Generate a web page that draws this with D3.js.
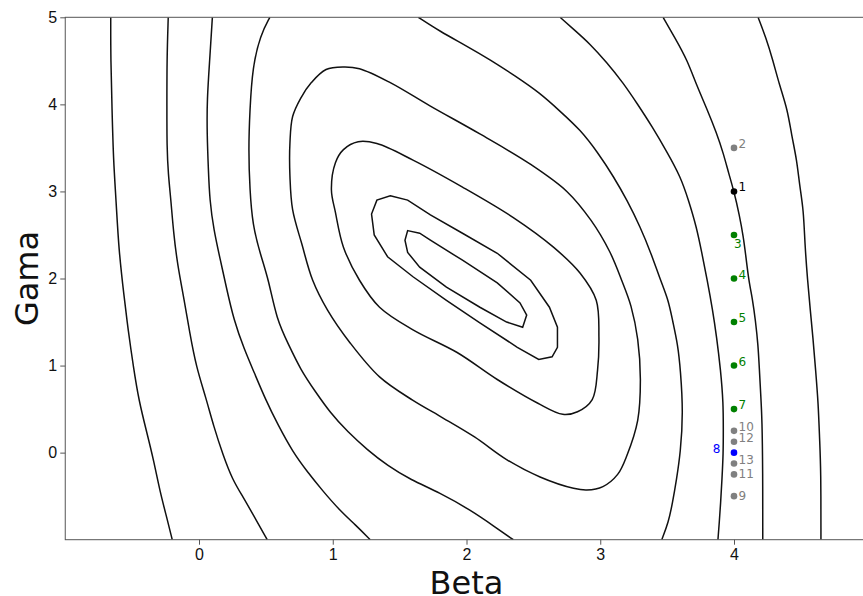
<!DOCTYPE html>
<html>
<head>
<meta charset="utf-8">
<script src="https://cdn.jsdelivr.net/npm/d3@7"></script>
<style>
body { margin: 0; background: #fff; }
svg { display: block; font-family: "DejaVu Sans", sans-serif; }
.axis text { font-size: 16px; fill: #111; }
.axis line { stroke: #555; }
.frame { fill: none; stroke: #555; stroke-width: 1; }
.contour { fill: none; stroke: #111; stroke-width: 1.5; }
.axisTitle { font-size: 32px; fill: #111; }
.ptLabel { font-size: 12px; }
</style>
</head>
<body>
<div id="chart"></div>
<script>
// axis ticks
var xTicks = [0, 1, 2, 3, 4, 5];
var yTicks = [0, 1, 2, 3, 4, 5];

// closed contour rings, [beta, gama], innermost first
var ring1 = [[1.56,2.55],[1.65,2.52],[1.73,2.44],[1.97,2.21],[2.23,1.95],[2.40,1.72],[2.45,1.58],[2.42,1.44],[2.30,1.50],[2.10,1.67],[1.85,1.90],[1.65,2.13],[1.56,2.30],[1.54,2.44]];
var ring2 = [[1.43,2.95],[1.56,2.90],[1.73,2.73],[1.97,2.52],[2.23,2.29],[2.48,1.98],[2.62,1.67],[2.68,1.44],[2.68,1.21],[2.64,1.10],[2.54,1.07],[2.38,1.21],[2.10,1.49],[1.85,1.75],[1.60,2.02],[1.41,2.25],[1.31,2.50],[1.29,2.74],[1.33,2.90]];
var ring3 = [[1.19,3.57],[1.33,3.55],[1.60,3.36],[1.97,3.05],[2.35,2.70],[2.65,2.36],[2.85,2.06],[2.97,1.75],[2.99,1.33],[2.98,0.95],[2.94,0.61],[2.83,0.47],[2.72,0.44],[2.53,0.57],[2.23,0.84],[1.93,1.15],[1.60,1.41],[1.35,1.67],[1.20,1.98],[1.08,2.36],[1.02,2.76],[0.99,3.02],[1.02,3.33],[1.08,3.48]];
var ring4 = [[1.08,4.43],[1.20,4.41],[1.43,4.25],[1.73,3.98],[2.10,3.66],[2.48,3.31],[2.75,3.00],[2.93,2.67],[3.07,2.31],[3.16,1.98],[3.23,1.68],[3.28,1.30],[3.30,0.84],[3.28,0.37],[3.20,-0.03],[3.13,-0.25],[3.02,-0.39],[2.90,-0.43],[2.80,-0.41],[2.55,-0.28],[2.30,-0.08],[2.06,0.18],[1.80,0.42],[1.60,0.60],[1.35,0.87],[1.13,1.26],[0.96,1.64],[0.85,1.98],[0.77,2.39],[0.70,2.79],[0.68,3.17],[0.68,3.56],[0.70,3.86],[0.76,4.07],[0.84,4.25],[0.95,4.40]];

// open contour arcs, left and right of the valley
var leftArc5 = [[0.53,5],[0.46,4.80],[0.40,4.43],[0.38,3.93],[0.37,3.48],[0.38,3.02],[0.40,2.62],[0.46,2.27],[0.52,1.99],[0.58,1.53],[0.67,1.24],[0.76,0.95],[0.87,0.70],[0.98,0.46],[1.11,0.24],[1.26,0.03],[1.41,-0.15],[1.58,-0.31],[1.80,-0.46],[2.03,-0.66],[2.21,-0.85],[2.35,-1]];
var leftArc6 = [[0.10,5],[0.08,4.51],[0.06,4.05],[0.06,3.67],[0.07,3.25],[0.08,2.90],[0.11,2.56],[0.16,2.21],[0.20,1.93],[0.26,1.52],[0.34,1.18],[0.41,0.93],[0.50,0.60],[0.59,0.32],[0.70,0.01],[0.81,-0.22],[0.92,-0.43],[1.05,-0.66],[1.17,-0.83],[1.28,-1]];
var leftArc7 = [[-0.23,5],[-0.24,4.51],[-0.24,3.97],[-0.24,3.51],[-0.23,3.2],[-0.21,2.9],[-0.19,2.52],[-0.16,2.15],[-0.11,1.75],[-0.07,1.38],[-0.02,0.98],[0.05,0.64],[0.11,0.30],[0.18,-0.03],[0.25,-0.31],[0.33,-0.51],[0.40,-0.70],[0.51,-1]];
var leftArc8 = [[-0.66,5],[-0.66,4.51],[-0.65,3.94],[-0.64,3.36],[-0.62,2.9],[-0.60,2.33],[-0.56,1.79],[-0.53,1.41],[-0.49,0.98],[-0.45,0.60],[-0.39,0.23],[-0.34,-0.08],[-0.29,-0.46],[-0.24,-0.75],[-0.20,-1]];
var rightArc5 = [[1.64,5],[1.80,4.84],[1.99,4.68],[2.18,4.51],[2.36,4.33],[2.55,4.13],[2.70,3.92],[2.85,3.71],[2.98,3.45],[3.10,3.17],[3.20,2.90],[3.30,2.59],[3.38,2.29],[3.45,1.98],[3.51,1.75],[3.54,1.52],[3.58,1.24],[3.60,0.95],[3.62,0.46],[3.60,0.00],[3.57,-0.31],[3.54,-0.58],[3.51,-0.80],[3.46,-1]];
var rightArc6 = [[2.70,5],[2.81,4.85],[2.92,4.70],[3.05,4.48],[3.17,4.25],[3.28,4.00],[3.39,3.74],[3.50,3.45],[3.60,3.17],[3.66,2.90],[3.72,2.59],[3.76,2.29],[3.80,1.98],[3.84,1.64],[3.87,1.33],[3.90,0.95],[3.92,0.57],[3.92,0.26],[3.92,0.00],[3.91,-0.31],[3.90,-0.58],[3.89,-0.80],[3.88,-1]];
var rightArc7 = [[3.47,5],[3.56,4.76],[3.65,4.51],[3.72,4.22],[3.80,3.94],[3.87,3.67],[3.92,3.44],[3.96,3.21],[4.00,3.00],[4.04,2.73],[4.07,2.48],[4.09,2.24],[4.11,1.98],[4.14,1.75],[4.16,1.52],[4.18,1.24],[4.19,0.95],[4.20,0.66],[4.21,0.38],[4.215,-0.20],[4.215,-1]];
var rightArc8 = [[4.18,5],[4.24,4.76],[4.29,4.51],[4.34,4.22],[4.40,3.94],[4.43,3.65],[4.47,3.36],[4.49,3.07],[4.52,2.79],[4.53,2.39],[4.55,1.98],[4.57,1.64],[4.59,1.33],[4.61,0.95],[4.63,0.57],[4.64,0.15],[4.65,-0.20],[4.65,-1]];

// search steps along gama at beta = 4
var stepLabels = ["1","2","3","4","5","6","7","8","9","10","11","12","13"];
var stepBeta   = [4, 4, 4, 4, 4, 4, 4, 4, 4, 4, 4, 4, 4];
var stepGama   = [3, 3.5, 2.5, 2, 1.5, 1, 0.5, 0, -0.5, 0.25, -0.25, 0.125, -0.125];
var stepStatus = ["start","rejected","accepted","accepted","accepted","accepted","accepted","best","rejected","rejected","rejected","rejected","rejected"];

function init(){
    var w = 863;
    var h = 596;
    var left = 65.25, top = 17.3;
    var pw = 802.5, ph = 522.4;

    var xScale = d3.scaleLinear().domain([-1, 5]).range([left, left + pw]);
    var yScale = d3.scaleLinear().domain([-1, 5]).range([top + ph, top]);

    var svg = d3.select("#chart")
                .append("svg")
                .attr("width", w)
                .attr("height", h);

    svg.append("clipPath")
        .attr("id", "plotClip")
        .append("rect")
        .attr("x", left).attr("y", top)
        .attr("width", pw).attr("height", ph);

    var g = svg.append("g").attr("clip-path", "url(#plotClip)");

    var openLine = d3.line()
        .x(function(d) { return xScale(d[0]); })
        .y(function(d) { return yScale(d[1]); })
        .curve(d3.curveBasis);
    var ringLine = d3.line()
        .x(function(d) { return xScale(d[0]); })
        .y(function(d) { return yScale(d[1]); })
        .curve(d3.curveLinearClosed);
    var smoothRing = d3.line()
        .x(function(d) { return xScale(d[0]); })
        .y(function(d) { return yScale(d[1]); })
        .curve(d3.curveCatmullRomClosed.alpha(0.5));

    g.append("path").attr("class", "contour").attr("d", ringLine(ring1));
    g.append("path").attr("class", "contour").attr("d", ringLine(ring2));
    g.append("path").attr("class", "contour").attr("d", smoothRing(ring3));
    g.append("path").attr("class", "contour").attr("d", smoothRing(ring4));
    [leftArc5, leftArc6, leftArc7, leftArc8, rightArc5, rightArc6, rightArc7, rightArc8].forEach(function(a){
        g.append("path").attr("class", "contour").attr("d", openLine(a));
    });

    //frame
    svg.append("rect")
        .attr("class", "frame")
        .attr("x", left).attr("y", top)
        .attr("width", pw).attr("height", ph);

    //creating axes
    var fmt = d3.format("d");
    var xAxis = d3.axisBottom(xScale).tickValues(xTicks).tickFormat(fmt).tickSize(5).tickPadding(4).tickSizeOuter(0);
    var yAxis = d3.axisLeft(yScale).tickValues(yTicks).tickFormat(fmt).tickSize(5).tickPadding(3).tickSizeOuter(0);
    var gx = svg.append("g")
        .attr("class", "axis")
        .attr("transform", "translate(0," + (top + ph) + ")")
        .call(xAxis);
    var gy = svg.append("g")
        .attr("class", "axis")
        .attr("transform", "translate(" + left + ",0)")
        .call(yAxis);
    gx.select(".domain").remove();
    gy.select(".domain").remove();

    svg.append("text")
        .attr("class", "axisTitle")
        .attr("x", left + pw / 2)
        .attr("y", 594)
        .attr("text-anchor", "middle")
        .text("Beta");
    svg.append("text")
        .attr("class", "axisTitle")
        .attr("transform", "translate(38," + (top + ph / 2) + ") rotate(-90)")
        .attr("text-anchor", "middle")
        .text("Gama");

    //search points
    var colour = d3.scaleOrdinal()
        .domain(["start", "rejected", "accepted", "best"])
        .range(["#000000", "#808080", "#008000", "#0000ff"]);

    var steps = stepLabels.map(function(l, i){
        return { label: l, beta: stepBeta[i], gama: stepGama[i], status: stepStatus[i] };
    });

    svg.selectAll(".pt")
        .data(steps)
        .enter().append("circle")
        .attr("class", "pt")
        .attr("cx", function(d) { return xScale(d.beta); })
        .attr("cy", function(d) { return yScale(d.gama); })
        .attr("r", 3.3)
        .attr("fill", function(d) { return colour(d.status); });

    svg.selectAll(".ptLabel")
        .data(steps)
        .enter().append("text")
        .attr("class", "ptLabel")
        .attr("fill", function(d) { return colour(d.status); })
        .attr("text-anchor", function(d) { return d.label === "8" ? "end" : "start"; })
        .attr("x", function(d) {
            if (d.label === "8") return xScale(d.beta) - 13.5;
            if (d.label === "3") return xScale(d.beta);
            return xScale(d.beta) + 4.5;
        })
        .attr("y", function(d) {
            if (d.label === "3") return yScale(d.gama) + 13;
            if (d.label === "11" || d.label === "9") return yScale(d.gama) + 4;
            return yScale(d.gama);
        })
        .text(function(d) { return d.label; });
}
window.onload = init;
</script>
</body>
</html>
